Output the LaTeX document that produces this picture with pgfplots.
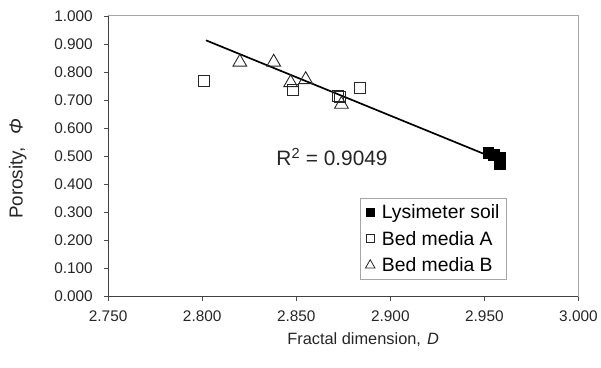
\documentclass[border=0pt]{standalone}
\usepackage{fontspec}
\setmainfont{Liberation Sans}
\usepackage{pgfplots}
\pgfplotsset{compat=1.18}
\begin{document}
\begin{tikzpicture}
\begin{axis}[
  scale only axis, width=474bp, height=283bp,
  xmin=2.75, xmax=3.0, ymin=0, ymax=1,
  xtick={2.75,2.80,2.85,2.90,2.95,3.00},
  ytick={0,0.1,0.2,0.3,0.4,0.5,0.6,0.7,0.8,0.9,1.0},
  /pgf/number format/assume math mode=true,
  /pgf/number format/.cd, fixed, fixed zerofill, precision=3, /pgfplots/.cd,
  tick label style={font=\fontsize{15.5bp}{18bp}\selectfont, black!85},
  yticklabel style={xshift=-8bp},
  xticklabel style={yshift=-7bp},
  tick align=outside, major tick length=4bp,
  xtick pos=left, ytick pos=left,
  axis line style={draw=none},
  tick style={black!70, line width=0.6bp},
  xlabel={Fractal dimension,\hspace{6bp}\textit{D}},
  ylabel={Porosity,\hspace{13bp}\textit{Φ}},
  xlabel style={font=\fontsize{16.5bp}{19bp}\selectfont, black!85, at={(axis description cs:0.542,-0.152)}, anchor=center},
  ylabel style={font=\fontsize{19bp}{22bp}\selectfont, black!85, at={(axis description cs:-0.192,0.456)}, anchor=center, rotate=0},
  legend style={at={(axis cs:2.884,0.350)}, anchor=north west, draw=black!35, line width=0.6bp,
    font=\fontsize{19.5bp}{22bp}\selectfont, row sep=7bp, inner xsep=5bp, inner ysep=4bp, fill=white,
    /tikz/every odd column/.append style={column sep=5bp}},
  legend cell align=left,
  clip=false,
]
\draw[black!35, line width=0.8bp] (rel axis cs:0,1) -- (rel axis cs:1,1) -- (rel axis cs:1,0);
\draw[black!75, line width=0.8bp] (rel axis cs:0,1) -- (rel axis cs:0,0) -- (rel axis cs:1,0);
\coordinate (O) at (rel axis cs:0,0);
% regression line
\addplot[black, line width=1.7bp, forget plot] coordinates {(2.802,0.913) (2.958,0.486)};
% Bed media A
\addplot[only marks, mark=square, mark size=5.5bp, mark options={black!85, line width=0.9bp}, forget plot]
  coordinates {(2.801,0.767) (2.848,0.735) (2.872,0.714) (2.873,0.712) (2.884,0.742)};
% Bed media B
\addplot[only marks, mark=triangle, mark size=8bp, mark options={black!85, line width=0.9bp}, forget plot]
  coordinates {(2.820,0.835) (2.838,0.835) (2.847,0.762) (2.855,0.773) (2.874,0.685)};
% Lysimeter soil
\addplot[only marks, mark=square*, mark size=5.5bp, mark options={black, fill=black}, forget plot]
  coordinates {(2.952,0.512) (2.955,0.505) (2.958,0.495) (2.958,0.472)};
\node[font=\fontsize{21bp}{24bp}\selectfont, black!85] at (axis cs:2.869,0.498) {R\textsuperscript{2} = 0.9049};
\addlegendimage{only marks, mark=square*, mark size=4bp, mark options={black, fill=black}}
\addlegendentry{Lysimeter soil}
\addlegendimage{only marks, mark=square, mark size=4bp, mark options={black!85, line width=0.8bp}}
\addlegendentry{Bed media A}
\addlegendimage{only marks, mark=triangle, mark size=5.5bp, mark options={black!85, line width=0.8bp}}
\addlegendentry{Bed media B}
\end{axis}
\path (O) ++(-109bp,-71bp) rectangle ++(601bp,370bp);
\end{tikzpicture}
\end{document}
